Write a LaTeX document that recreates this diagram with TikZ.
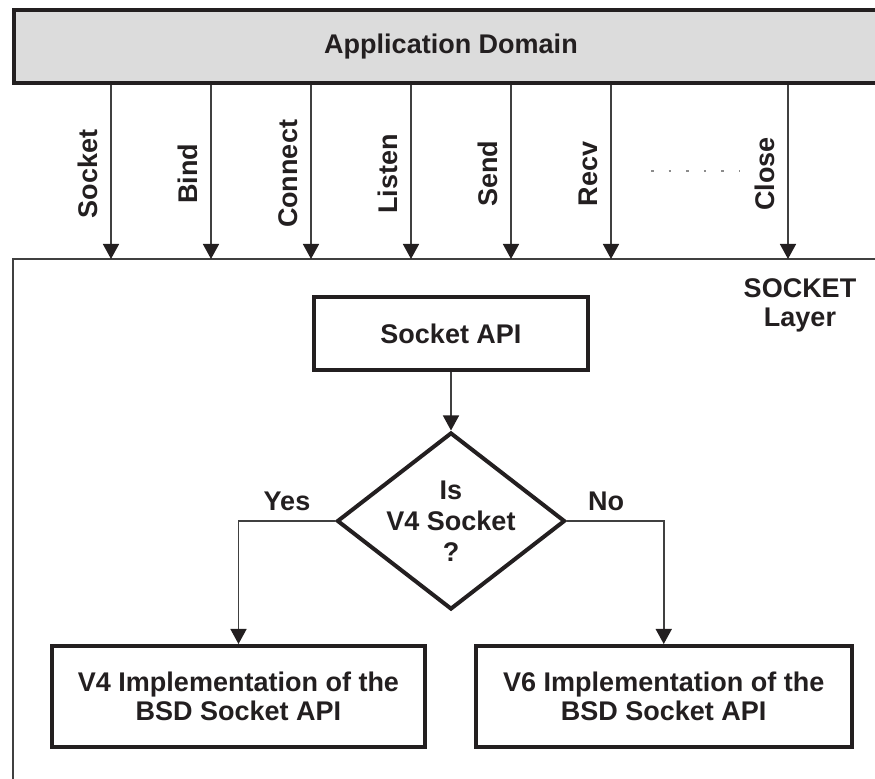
\documentclass[tikz,border=0pt]{standalone}
\usepackage{fontspec}
\setmainfont{Liberation Sans}
\usetikzlibrary{arrows.meta,shapes.geometric}
\definecolor{textc}{HTML}{231F20}
\definecolor{linec}{HTML}{231F20}
\definecolor{connc}{HTML}{404040}
\definecolor{boxfill}{HTML}{DCDCDC}
\definecolor{dotc}{HTML}{8C8C8C}
\tikzset{
  every node/.style={text=textc},
  thickbox/.style={draw=linec, line width=2pt, rectangle, align=center, inner sep=0pt},
  conn/.style={draw=connc, line width=0.75pt, -{Triangle[length=7.5pt,width=8pt,color=linec]}},
  plainline/.style={draw=connc, line width=0.75pt},
  decbox/.style={diamond, draw=linec, line width=2pt, inner sep=0pt, align=center},
}
\begin{document}
\begin{tikzpicture}[x=0.5pt,y=-0.5pt,font=\fontsize{13.5}{14.5}\selectfont\bfseries]
\useasboundingbox (0,0) rectangle (875,779);
\clip (0,0) rectangle (875,779);
% application domain bar
\node[thickbox, fill=boxfill, minimum width=437.5pt, minimum height=36.25pt] (app) at (451,46.75) {Application Domain};
% socket layer frame
\coordinate (layerBL) at (13,790);
\coordinate (layerTL) at (13,259);
\coordinate (layerTR) at (885,259);
\draw[plainline] (layerBL) -- (layerTL) -- (layerTR);
% calls
\foreach \x/\lab [count=\i] in {111/Socket,211/Bind,311/Connect,411/Listen,511/Send,611/Recv,788/Close}{
  \coordinate (in\i) at (\x,259);
  \draw[conn] (app.south -| in\i) -- (in\i);
  \node[rotate=90] (lab\i) at (\x-23,174) {\lab};
}
\coordinate (dotA) at (651,171);
\coordinate (dotB) at (740,171);
\draw[dotc, line width=1.3pt, dash pattern=on 1.3pt off 7.5pt] (dotA) -- (dotB);
\node[align=center] (layer) at (800,305) {SOCKET\\Layer};
% flow
\node[thickbox, minimum width=137pt, minimum height=36.5pt] (api) at (451,333.5) {Socket API};
\node[decbox, minimum width=114pt, minimum height=88.5pt] (dec) at (451,521)
  {\makebox[0pt]{Is}\\[1pt]\makebox[0pt]{V4 Socket}\\[1pt]\makebox[0pt]{?}};
\node[thickbox, minimum width=186.5pt, minimum height=50.5pt] (v4) at (238.5,696.5) {V4 Implementation of the\\BSD Socket API};
\node[thickbox, minimum width=187.75pt, minimum height=50.5pt] (v6) at (663.75,696.5) {V6 Implementation of the\\BSD Socket API};
\draw[conn] (api) -- (dec);
\draw[conn] (dec.west) -| (v4.north);
\draw[conn] (dec.east) -| (v6.north);
\node (yes) at (287,501) {Yes};
\node (no) at (606,501) {No};
\end{tikzpicture}
\end{document}
